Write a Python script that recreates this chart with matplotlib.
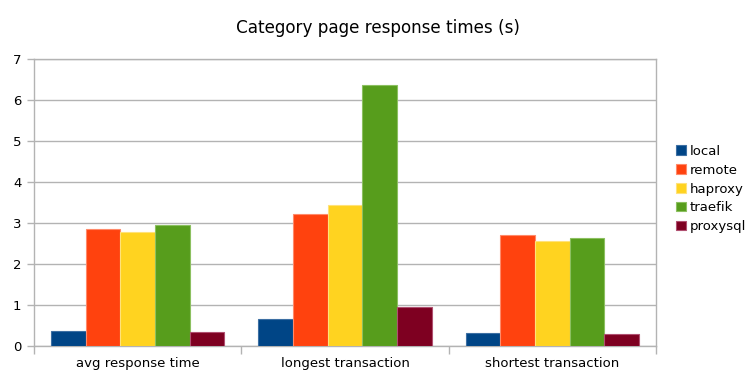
import matplotlib
matplotlib.use("Agg")
import matplotlib.pyplot as plt
import numpy as np
from matplotlib.patches import Patch

categories = ["avg response time", "longest transaction", "shortest transaction"]
series_names = ["local", "remote", "haproxy", "traefik", "proxysql"]
local = [0.37, 0.67, 0.32]
remote = [2.85, 3.23, 2.71]
haproxy = [2.79, 3.43, 2.55]
traefik = [2.94, 6.37, 2.63]
proxysql = [0.34, 0.94, 0.30]
colors = ["#004586", "#ff420e", "#ffd320", "#579d1c", "#7e0021"]
edges = ["#3d6fa3", "#ff8a6a", "#ffe27a", "#8cc060", "#b05070"]
yticks = [0, 1, 2, 3, 4, 5, 6, 7]

data = [local, remote, haproxy, traefik, proxysql]

fig = plt.figure(figsize=(7.56, 3.78), dpi=100)
ax = fig.add_axes([34/756, 32/378, (656-34)/756, (346-59)/378])

x = np.arange(len(categories))
bw = 0.167
for i, (vals, c, e) in enumerate(zip(data, colors, edges)):
    ax.bar(x + (i - 2) * bw, vals, width=bw, color=c, edgecolor=e, linewidth=0.8, zorder=3)

ax.set_xlim(-0.5, 2.5)
ax.set_ylim(0, 7)
ax.set_yticks(yticks)
ax.set_yticklabels([str(t) for t in yticks], fontsize=9.5)
ax.set_xticks(x)
ax.set_xticklabels(categories, fontsize=9.5)
ax.tick_params(axis="x", length=0, pad=8)
ax.set_xticks([-0.5, 0.5, 1.5, 2.5], minor=True)
ax.tick_params(axis="x", which="minor", length=6, color="#b3b3b3", direction="out", width=1)
ax.tick_params(axis="y", length=5, color="#b3b3b3", direction="out", pad=4, width=1)
ax.grid(axis="y", color="#b3b3b3", linewidth=1, zorder=0)
for s in ax.spines.values():
    s.set_color("#b3b3b3")
    s.set_linewidth(1)

fig.text(378/756, 1 - 28/378, "Category page response times (s)", ha="center", va="center", fontsize=12.1)

handles = [Patch(facecolor=c, edgecolor=e, linewidth=0.8) for c, e in zip(colors, edges)]
fig.legend(handles, series_names, loc="center left", bbox_to_anchor=(671/756, 1 - 189/378),
           frameon=False, fontsize=9.5, handlelength=0.7, handleheight=0.7,
           handletextpad=0.3, labelspacing=0.45, borderaxespad=0)

fig.savefig("out.png", dpi=100)
